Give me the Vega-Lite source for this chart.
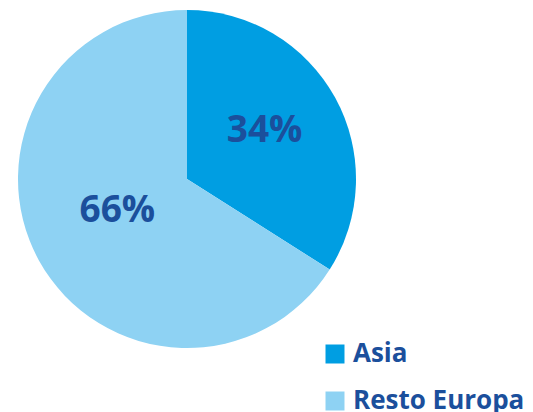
{
  "$schema": "https://vega.github.io/schema/vega-lite/v6.json",
  "width": 374,
  "height": 338,
  "autosize": "none",
  "padding": {"top": 10, "left": 0, "right": 159, "bottom": 64},
  "background": "white",
  "data": {"values": [
    {"region": "Asia", "share": 0.34},
    {"region": "Resto Europa", "share": 0.66}
  ]},
  "encoding": {
    "theta": {"field": "share", "type": "quantitative", "stack": true},
    "color": {
      "field": "region", "type": "nominal",
      "scale": {"domain": ["Asia", "Resto Europa"], "range": ["#009ee2", "#8ed2f3"]},
      "legend": {
        "title": null, "orient": "none", "legendX": 322, "legendY": 331,
        "symbolType": "square", "symbolSize": 361, "symbolStrokeWidth": 0,
        "labelFont": "Open Sans", "labelFontSize": 26, "labelFontWeight": "bold",
        "labelColor": "#1b4f9c", "rowPadding": 21, "labelOffset": 5, "labelLimit": 300
      }
    }
  },
  "layer": [
    {"mark": {"type": "arc", "outerRadius": 169, "stroke": null}},
    {
      "mark": {"type": "text", "radius": 84, "dy": -8, "dx": 4, "font": "Open Sans", "fontSize": 37, "fontWeight": "bold", "baseline": "middle", "align": "center"},
      "encoding": {"text": {"field": "share", "type": "quantitative", "format": ".0%"}, "color": {"value": "#1b4f9c"}}
    }
  ]
}
